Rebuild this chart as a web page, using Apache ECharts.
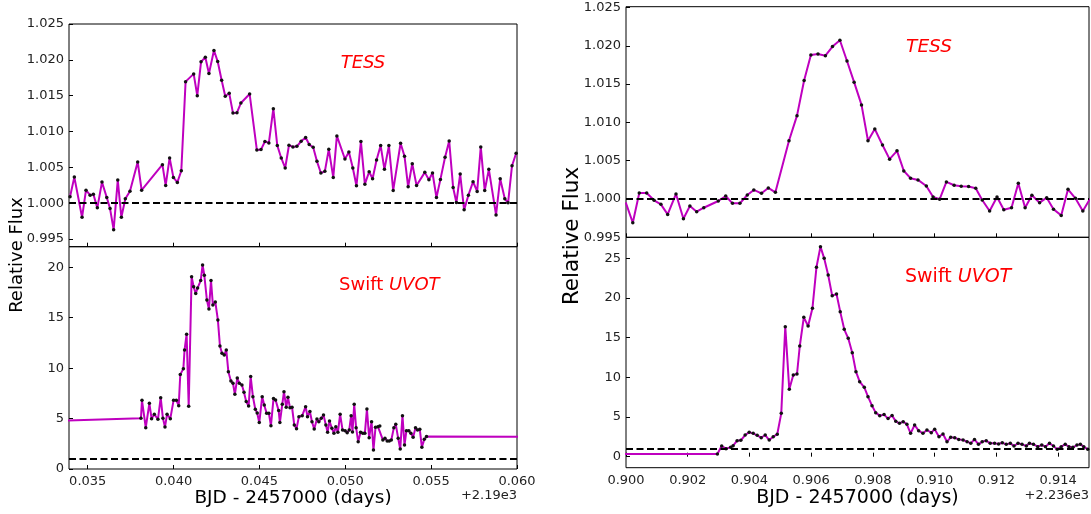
<!DOCTYPE html>
<html>
<head>
<meta charset="utf-8">
<script src="https://cdn.jsdelivr.net/npm/echarts@6/dist/echarts.min.js"></script>
<style>
html,body{margin:0;padding:0;background:#fff;}
#c{width:1091px;height:514px;}
</style>
</head>
<body>
<div id="c"></div>
<script>
// ---------- DATA (times are offsets from the axis offset, days) ----------
// Left flare (offset +2190)
const tessLeftTime = [0.03397,0.03422,0.03467,0.03490,0.03514,0.03533,0.03556,0.03583,0.03611,0.03630,
0.03651,0.03675,0.03696,0.03719,0.03746,0.03791,0.03814,0.03935,0.03954,0.03977,
0.03999,0.04022,0.04045,0.04070,0.04117,0.04138,0.04160,0.04185,0.04206,0.04235,
0.04257,0.04280,0.04301,0.04324,0.04346,0.04369,0.04392,0.04443,0.04485,0.04509,
0.04532,0.04555,0.04581,0.04604,0.04627,0.04650,0.04672,0.04695,0.04718,0.04743,
0.04769,0.04790,0.04813,0.04835,0.04858,0.04881,0.04904,0.04930,0.04951,0.04998,
0.05021,0.05044,0.05065,0.05091,0.05114,0.05139,0.05159,0.05182,0.05206,0.05228,
0.05254,0.05279,0.05322,0.05345,0.05366,0.05390,0.05415,0.05463,0.05487,0.05508,
0.05531,0.05554,0.05581,0.05605,0.05628,0.05647,0.05669,0.05692,0.05717,0.05744,
0.05768,0.05789,0.05812,0.05836,0.05878,0.05902,0.05929,0.05948,0.05971,0.05995];
const tessLeftFlux = [1.00089,1.00364,0.99804,1.00182,1.00112,1.00126,0.99935,1.00294,1.00079,0.99925,
0.99631,1.00322,0.99804,1.00061,1.00168,1.00575,1.00182,1.00537,1.00248,1.00631,
1.00360,1.00290,1.00453,1.01696,1.01804,1.01500,1.01972,1.02037,1.01808,1.02131,
1.01977,1.01715,1.01491,1.01533,1.01257,1.01262,1.01397,1.01523,1.00743,1.00748,
1.00860,1.00841,1.01318,1.00804,1.00631,1.00491,1.00808,1.00785,1.00794,1.00864,
1.00916,1.00818,1.00780,1.00584,1.00421,1.00444,1.00752,1.00360,1.00939,1.00617,
1.00715,1.00491,1.00243,1.00860,1.00266,1.00439,1.00341,1.00603,1.00804,1.00472,
1.00804,1.00178,1.00836,1.00654,1.00229,1.00551,1.00248,1.00430,1.00327,1.00421,
1.00079,1.00332,1.00640,1.00869,1.00220,1.00009,1.00407,0.99907,1.00112,1.00299,
1.00164,1.00785,1.00178,1.00472,0.99836,1.00341,1.00061,1.00005,1.00523,1.00696];

const swiftLeftTime = [0.03000,0.03810,0.03816,0.03838,0.03859,0.03872,0.03888,0.03909,0.03925,0.03938,0.03950,
0.03962,0.03981,0.04000,0.04016,0.04030,0.04039,0.04057,0.04064,0.04076,0.04088,
0.04105,0.04117,0.04129,0.04140,0.04158,0.04169,0.04179,0.04194,0.04206,0.04218,
0.04229,0.04243,0.04258,0.04270,0.04282,0.04295,0.04307,0.04319,0.04334,0.04346,
0.04357,0.04371,0.04383,0.04398,0.04410,0.04423,0.04437,0.04449,0.04462,0.04476,
0.04487,0.04499,0.04516,0.04528,0.04542,0.04555,0.04567,0.04582,0.04594,0.04612,
0.04619,0.04633,0.04643,0.04656,0.04666,0.04678,0.04690,0.04703,0.04716,0.04730,
0.04749,0.04769,0.04780,0.04794,0.04806,0.04819,0.04835,0.04846,0.04860,0.04873,
0.04887,0.04897,0.04908,0.04922,0.04934,0.04945,0.04957,0.04970,0.04984,0.04999,
0.05011,0.05023,0.05034,0.05042,0.05052,0.05063,0.05075,0.05089,0.05102,0.05114,
0.05126,0.05139,0.05153,0.05164,0.05176,0.05190,0.05201,0.05219,0.05231,0.05244,
0.05256,0.05268,0.05283,0.05294,0.05308,0.05320,0.05333,0.05345,0.05356,0.05370,
0.05382,0.05395,0.05409,0.05421,0.05434,0.05446,0.05460,0.05473,0.07000];
const swiftLeftFlux = [4.62,5.02,6.81,4.10,6.51,4.99,5.42,4.93,7.07,5.02,4.17,
5.42,4.99,6.81,6.81,6.28,9.36,9.95,11.80,13.36,6.21,
19.07,18.08,17.39,17.95,18.68,20.23,19.21,16.76,15.87,18.68,
16.26,16.56,14.78,12.20,11.47,11.31,11.80,9.65,8.73,8.50,
7.40,9.02,8.50,8.33,7.60,6.68,6.25,9.16,7.17,5.92,
5.55,4.60,7.17,6.35,5.52,5.52,4.30,6.98,6.84,5.79,
4.60,6.41,7.67,6.12,7.11,6.08,6.12,4.36,4.00,5.19,
5.29,6.18,5.19,5.69,4.69,3.97,4.96,4.69,5.02,5.36,
4.36,3.64,4.76,4.03,3.54,4.20,3.64,5.42,3.87,3.80,
3.60,3.87,5.29,3.67,6.41,4.10,2.71,3.64,3.54,3.54,
5.95,3.11,4.69,1.88,4.13,4.20,4.26,2.88,3.04,2.78,
2.78,2.88,4.10,4.43,3.04,1.98,5.29,2.38,3.80,3.80,
3.54,3.14,4.10,3.87,3.93,2.15,2.94,3.21,3.18];

// Right flare (offset +2236)
const tessRightTime = [0.89999,0.90022,0.90043,0.90067,0.90091,0.90113,0.90135,0.90162,0.90186,0.90207,
0.90229,0.90252,0.90299,0.90323,0.90345,0.90369,0.90393,0.90414,0.90439,0.90461,
0.90484,0.90528,0.90554,0.90577,0.90599,0.90622,0.90646,0.90669,0.90693,0.90716,
0.90739,0.90763,0.90784,0.90806,0.90831,0.90854,0.90878,0.90900,0.90922,0.90946,
0.90973,0.90995,0.91016,0.91038,0.91063,0.91086,0.91110,0.91133,0.91154,0.91178,
0.91202,0.91224,0.91249,0.91271,0.91293,0.91315,0.91340,0.91363,0.91385,0.91410,
0.91432,0.91456,0.91480,0.91503];
const tessRightFlux = [0.99955,0.99690,1.00079,1.00079,0.99983,0.99930,0.99799,1.00066,0.99742,0.99908,
0.99834,0.99886,0.99974,1.00039,0.99943,0.99943,1.00052,1.00118,1.00074,1.00144,
1.00087,1.00760,1.01088,1.01547,1.01879,1.01892,1.01871,1.01989,1.02072,1.01801,
1.01525,1.01228,1.00760,1.00913,1.00704,1.00520,1.00629,1.00367,1.00271,1.00249,
1.00170,1.00026,0.99996,1.00223,1.00179,1.00166,1.00162,1.00140,0.99987,0.99843,
1.00026,0.99860,0.99886,1.00205,0.99886,1.00048,0.99952,1.00017,0.99865,0.99786,
1.00127,1.00009,0.99843,1.00000];

const swiftRightTime = [0.89000,0.90296,0.90310,0.90324,0.90339,0.90347,0.90360,0.90372,0.90386,0.90399,0.90412,
0.90425,0.90438,0.90451,0.90464,0.90477,0.90490,0.90503,0.90516,0.90529,0.90542,
0.90554,0.90563,0.90576,0.90590,0.90604,0.90617,0.90630,0.90642,0.90655,0.90668,
0.90682,0.90694,0.90707,0.90720,0.90733,0.90745,0.90757,0.90772,0.90784,0.90797,
0.90809,0.90822,0.90836,0.90849,0.90862,0.90874,0.90886,0.90898,0.90910,0.90922,
0.90935,0.90948,0.90962,0.90975,0.90989,0.91000,0.91014,0.91027,0.91040,0.91052,
0.91065,0.91078,0.91092,0.91105,0.91117,0.91129,0.91142,0.91154,0.91167,0.91180,
0.91194,0.91207,0.91219,0.91232,0.91245,0.91257,0.91270,0.91283,0.91297,0.91307,
0.91320,0.91334,0.91347,0.91359,0.91372,0.91385,0.91397,0.91410,0.91423,0.91435,
0.91448,0.91461,0.91472,0.91483,0.91496];
const swiftRightFlux = [0.35,0.35,1.34,1.01,1.18,1.39,2.02,2.06,2.73,3.07,2.94,
2.69,2.39,2.73,2.10,2.52,2.82,5.46,16.39,8.49,10.29,
10.42,13.95,17.56,16.47,18.70,23.87,26.47,25.00,22.90,20.29,
20.50,18.28,16.05,14.92,13.11,10.71,9.45,8.74,7.56,6.43,
5.55,5.17,5.30,4.80,5.20,4.45,4.20,4.41,4.08,2.94,
3.99,3.28,2.94,3.36,3.03,3.45,2.52,2.86,1.89,2.44,
2.39,2.18,2.10,1.89,1.68,2.18,1.55,1.89,2.02,1.68,
1.68,1.60,1.76,1.55,1.68,1.34,1.68,1.55,1.34,1.68,
1.55,1.26,1.47,1.26,1.68,1.34,0.92,1.26,1.55,1.26,
1.18,1.47,1.55,1.26,0.92];

// Tick labels
const xTicksLeft = [0.035,0.040,0.045,0.050,0.055,0.060];
const xTicksRight = [0.900,0.902,0.904,0.906,0.908,0.910,0.912,0.914];
const yTicksTess = [0.995,1.000,1.005,1.010,1.015,1.020,1.025];
const yTicksSwiftLeft = [0,5,10,15,20];
const yTicksSwiftRight = [0,5,10,15,20,25];
const quiescentLevel = 1;

// ---------- CHART ----------
const FONT = '"DejaVu Sans", sans-serif';
const zip = (a, b) => a.map((v, i) => [v, b[i]]);

function gridDef(left, top, width, height) {
  return {left, top, width, height, show: true, borderColor: '#000', borderWidth: 1, backgroundColor: 'transparent', containLabel: false};
}
function xAxisDef(gi, min, max, ticks, showLabel) {
  return {
    type: 'value', gridIndex: gi, min, max,
    axisLine: {show: false}, splitLine: {show: false},
    axisTick: {show: true, inside: true, length: 4, customValues: ticks, lineStyle: {color: '#000', width: 1}},
    axisLabel: {show: showLabel, customValues: ticks, formatter: v => v.toFixed(3), color: '#222', fontSize: 13, fontFamily: FONT, margin: 6}
  };
}
function yAxisDef(gi, min, max, ticks, digits) {
  return {
    type: 'value', gridIndex: gi, min, max,
    axisLine: {show: false}, splitLine: {show: false},
    axisTick: {show: true, inside: true, length: 4, customValues: ticks, lineStyle: {color: '#000', width: 1}},
    axisLabel: {show: true, customValues: ticks, formatter: v => v.toFixed(digits), color: '#222', fontSize: 13, fontFamily: FONT, margin: 5}
  };
}
function seriesDef(i, data) {
  return {
    type: 'line', xAxisIndex: i, yAxisIndex: i, data,
    symbol: 'circle', symbolSize: 3.5, showSymbol: true, clip: true,
    itemStyle: {color: '#111'},
    lineStyle: {color: '#bf00bf', width: 2},
    emphasis: {disabled: true},
    markLine: {
      silent: true, symbol: ['none', 'none'], label: {show: false},
      lineStyle: {color: '#000', type: [7, 3.5], width: 2},
      data: [{yAxis: quiescentLevel}]
    },
    z: 2
  };
}

const chart = echarts.init(document.getElementById('c'), null, {renderer: 'canvas'});
chart.setOption({
  animation: false,
  backgroundColor: '#fff',
  grid: [
    gridDef(69, 24, 448, 222.7),
    gridDef(69, 246.7, 448, 222.3),
    gridDef(626, 6.7, 463, 230.6),
    gridDef(626, 237.3, 463, 230.4)
  ],
  xAxis: [
    xAxisDef(0, 0.03391, 0.060, xTicksLeft, false),
    xAxisDef(1, 0.03391, 0.060, xTicksLeft, true),
    xAxisDef(2, 0.900, 0.915, xTicksRight, false),
    xAxisDef(3, 0.900, 0.915, xTicksRight, true)
  ],
  yAxis: [
    yAxisDef(0, 0.99393, 1.025, yTicksTess, 3),
    yAxisDef(1, 0, 22.04, yTicksSwiftLeft, 0),
    yAxisDef(2, 0.995, 1.0251, yTicksTess, 3),
    yAxisDef(3, -1.39, 27.65, yTicksSwiftRight, 0)
  ],
  series: [
    seriesDef(0, zip(tessLeftTime, tessLeftFlux)),
    seriesDef(1, zip(swiftLeftTime, swiftLeftFlux)),
    seriesDef(2, zip(tessRightTime, tessRightFlux)),
    seriesDef(3, zip(swiftRightTime, swiftRightFlux))
  ],
  graphic: [
    {type: 'text', x: 17, y: 255, rotation: Math.PI / 2, style: {text: 'Relative Flux', font: '18px ' + FONT, fill: '#000', align: 'center', verticalAlign: 'middle'}},
    {type: 'text', x: 572, y: 236, rotation: Math.PI / 2, style: {text: 'Relative Flux', font: '21.5px ' + FONT, fill: '#000', align: 'center', verticalAlign: 'middle'}},
    {type: 'text', x: 293, y: 498, style: {text: 'BJD - 2457000 (days)', font: '18.5px ' + FONT, fill: '#000', align: 'center', verticalAlign: 'middle'}},
    {type: 'text', x: 857.5, y: 498, style: {text: 'BJD - 2457000 (days)', font: '19px ' + FONT, fill: '#000', align: 'center', verticalAlign: 'middle'}},
    {type: 'text', x: 517, y: 496, style: {text: '+2.19e3', font: '13px ' + FONT, fill: '#222', align: 'right', verticalAlign: 'middle'}},
    {type: 'text', x: 1089, y: 496, style: {text: '+2.236e3', font: '13px ' + FONT, fill: '#222', align: 'right', verticalAlign: 'middle'}},
    {type: 'text', x: 363, y: 63, style: {text: 'TESS', font: 'italic 18px ' + FONT, fill: '#ff0000', align: 'center', verticalAlign: 'middle'}},
    {type: 'text', x: 929, y: 47, style: {text: 'TESS', font: 'italic 18.5px ' + FONT, fill: '#ff0000', align: 'center', verticalAlign: 'middle'}},
    {type: 'text', x: 339, y: 285, style: {text: '{n|Swift }{i|UVOT}', align: 'left', verticalAlign: 'middle',
      rich: {n: {fontSize: 18, fontFamily: FONT, fill: '#ff0000', color: '#ff0000'}, i: {fontSize: 18, fontFamily: FONT, fontStyle: 'italic', fill: '#ff0000', color: '#ff0000'}}}},
    {type: 'text', x: 905, y: 277, style: {text: '{n|Swift }{i|UVOT}', align: 'left', verticalAlign: 'middle',
      rich: {n: {fontSize: 19, fontFamily: FONT, fill: '#ff0000', color: '#ff0000'}, i: {fontSize: 19, fontFamily: FONT, fontStyle: 'italic', fill: '#ff0000', color: '#ff0000'}}}}
  ]
});
</script>
</body>
</html>
